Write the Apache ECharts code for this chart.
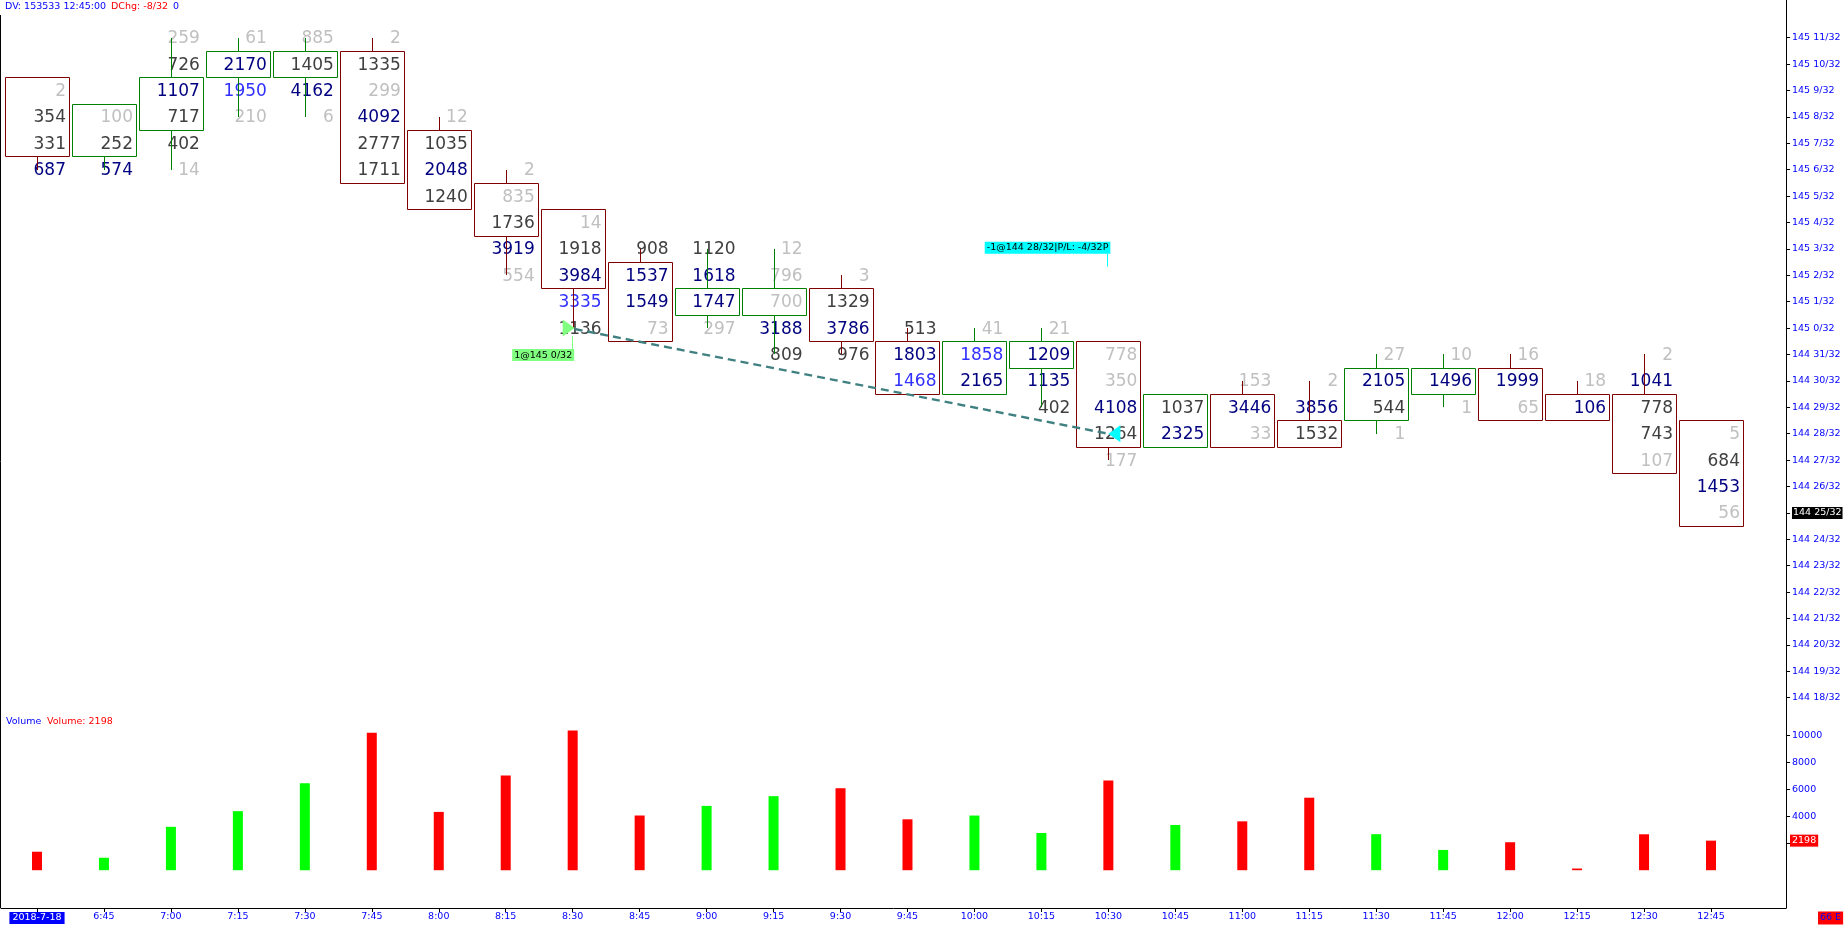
<!DOCTYPE html>
<html><head><meta charset="utf-8">
<script src="https://cdn.jsdelivr.net/npm/echarts@6/dist/echarts.min.js"></script>
<style>html,body{margin:0;padding:0;background:#fff;overflow:hidden}#c{width:1848px;height:926px}</style>
</head><body><div id="c"></div>
<script>
// ---- data (prices are in 1/32 ticks above 144) ----
var BASE = 144;
var times = ['2018-7-18','6:45','7:00','7:15','7:30','7:45','8:00','8:15','8:30','8:45','9:00','9:15','9:30','9:45','10:00','10:15','10:30','10:45','11:00','11:15','11:30','11:45','12:00','12:15','12:30','12:45'];
var opens  = [41,39,40,42,42,42,39,37,36,34,33,33,33,31,30,31,31,28,29,28,29,30,30,29,29,28];
var closes = [39,40,41,42,42,38,37,36,34,32,33,33,32,30,31,31,28,29,28,28,30,30,29,29,27,25];
var highs  = [41,40,43,43,43,43,40,38,36,35,35,35,34,32,32,32,31,29,30,30,31,31,31,30,31,28];
var lows   = [38,38,38,40,40,38,37,34,32,32,32,31,31,30,30,29,27,28,28,28,28,29,29,29,27,25];
var direction = [-1,1,1,1,1,-1,-1,-1,-1,-1,1,1,-1,-1,1,1,-1,1,-1,-1,1,1,-1,-1,-1,-1];
// footprint volumes per price level, from high to low
var cellVolumes = [
 [2,354,331,687],[100,252,574],[259,726,1107,717,402,14],[61,2170,1950,210],[885,1405,4162,6],
 [2,1335,299,4092,2777,1711],[12,1035,2048,1240],[2,835,1736,3919,554],[14,1918,3984,3335,1136],
 [908,1537,1549,73],[1120,1618,1747,297],[12,796,700,3188,809],[3,1329,3786,976],[513,1803,1468],
 [41,1858,2165],[21,1209,1135,402],[778,350,4108,1264,177],[1037,2325],[153,3446,33],[2,3856,1532],
 [27,2105,544,1],[10,1496,1],[16,1999,65],[18,106],[2,1041,778,743,107],[5,684,1453,56]
];
// level class of each cell: 0 low, 1 normal, 2 high, 3 peak
var cellClass = [
 [0,1,1,2],[0,1,2],[0,1,2,1,1,0],[0,2,3,0],[0,1,2,0],
 [0,1,0,2,1,1],[0,1,2,1],[0,0,1,2,0],[0,1,2,3,1],
 [1,2,2,0],[1,2,2,0],[0,0,0,2,1],[0,1,2,1],[1,2,3],
 [0,3,2],[0,2,2,1],[0,0,2,1,0],[1,2],[0,2,0],[0,2,1],
 [0,2,1,0],[0,2,0],[0,2,0],[0,2],[0,2,1,1,0],[0,1,2,0]
];
var volumes = [1374,926,3225,4391,6458,10216,4335,7046,10387,4067,4782,5505,6094,3784,4064,2767,6677,3362,3632,5390,2677,1507,2080,124,2671,2198];
var priceTicks = [18,19,20,21,22,23,24,25,26,27,28,29,30,31,32,33,34,35,36,37,38,39,40,41,42,43];
var volumeTicks = [2000,4000,6000,8000,10000];
var tradeBars = [8,16];
var tradePrices = [32,28];
var tradeTexts = ['1@145 0/32','-1@144 28/32|P/L: -4/32P'];
var headerDV = 'DV: 153533 12:45:00';
var headerChg = 'DChg: -8/32';
var headerTail = '0';
var cornerText = '66 E';

// ---- rendering ----
var FONT = '"DejaVu Sans", Verdana, sans-serif';
var SMALL = '9.5px ' + FONT;
var classColors = ['#c0c0c0','#404040','#000080','#3030ff'];
var idx = times.map(function(t,i){return i;});
var XMIN = -0.5376, XMAX = 26.12;
var lastPrice = closes[closes.length-1];

function priceLabel(t){
  t = Math.round(t);
  var w = BASE + Math.floor(t/32), f = ((t%32)+32)%32;
  return w + ' ' + f + '/32';
}
function txt(s, x, y, fill, font, align, valign, extra){
  var st = {text:s, x:x, y:y, fill:fill, font:font, align:align, verticalAlign:valign, textAlign:align, textVerticalAlign:valign};
  if (extra) for (var k in extra) st[k] = extra[k];
  return {type:'text', style:st};
}

function renderCandle(params, api){
  var i = api.value(0);
  var o = opens[i], c = closes[i], h = highs[i], l = lows[i];
  var col = direction[i] > 0 ? '#008000' : '#800000';
  var bTop = Math.max(o,c), bBot = Math.min(o,c);
  var pt = api.coord([i, bTop + 0.5]), pb = api.coord([i, bBot - 0.5]);
  var bw = api.size([1,0])[0];
  var cx = pt[0];
  var half = Math.round(bw*0.475);
  var xc = Math.round(cx) + 0.5;
  var yt = Math.round(pt[1]) + 0.5, yb = Math.round(pb[1]) + 0.5;
  var ch = [];
  ch.push({type:'rect', shape:{x:Math.round(cx)-half+0.5, y:yt, width:2*half, height:yb-yt}, style:{fill:'none', stroke:col, lineWidth:1}});
  var vols = cellVolumes[i], cls = cellClass[i];
  for (var k=0;k<vols.length;k++){
    var q = api.coord([i, h-k]);
    ch.push(txt(String(vols[k]), cx + bw*0.433, q[1]+1, classColors[cls[k]], '17px '+FONT, 'right', 'middle'));
  }
  if (h > bTop){ var qh = api.coord([i,h]); ch.push({type:'line', shape:{x1:xc,y1:Math.round(qh[1]),x2:xc,y2:yt}, style:{stroke:col,lineWidth:1}}); }
  if (l < bBot){ var ql = api.coord([i,l]); ch.push({type:'line', shape:{x1:xc,y1:yb,x2:xc,y2:Math.round(ql[1])}, style:{stroke:col,lineWidth:1}}); }
  return {type:'group', children:ch};
}

function renderTrades(params, api){
  var e = api.coord([api.value(0), api.value(1)]);
  var x = api.coord([api.value(2), api.value(3)]);
  var ch = [];
  ch.push({type:'line', shape:{x1:e[0]+2, y1:e[1]+1, x2:x[0], y2:x[1]}, style:{stroke:'#408080', lineWidth:2.5, lineDash:[8,5]}});
  ch.push({type:'polygon', shape:{points:[[e[0]+2,e[1]],[e[0]-10,e[1]-8.5],[e[0]-10,e[1]+8.5]]}, style:{fill:'#80ff80'}});
  ch.push({type:'line', shape:{x1:Math.round(e[0])-0.5, y1:e[1]+8, x2:Math.round(e[0])-0.5, y2:e[1]+21}, style:{stroke:'#80ff80', lineWidth:1}});
  ch.push(txt(tradeTexts[0], e[0]+1.5, e[1]+21, '#000', SMALL, 'right', 'top', {backgroundColor:'#80ff80', padding:[1,2,1,2]}));
  ch.push({type:'polygon', shape:{points:[[x[0],x[1]],[x[0]+12,x[1]-8.5],[x[0]+12,x[1]+8.5]]}, style:{fill:'#00ffff'}});
  ch.push({type:'line', shape:{x1:Math.round(x[0])-0.5, y1:x[1]-180, x2:Math.round(x[0])-0.5, y2:x[1]-167}, style:{stroke:'#00ffff', lineWidth:1}});
  ch.push(txt(tradeTexts[1], x[0]+2, x[1]-180, '#000', SMALL, 'right', 'bottom', {backgroundColor:'#00ffff', padding:[1,2,1,2]}));
  return {type:'group', children:ch};
}

var chart = echarts.init(document.getElementById('c'), null, {renderer:'canvas'});
var axisLineStyle = {show:true, onZero:false, lineStyle:{color:'#000', width:1}};
var option = {
  animation:false,
  backgroundColor:'#ffffff',
  tooltip:{show:false},
  grid:[
    {left:1, right:62, top:0, height:710, outerBoundsMode:'none', containLabel:false},
    {left:1, right:62, top:710, height:198, outerBoundsMode:'none', containLabel:false}
  ],
  xAxis:[
    {type:'value', gridIndex:0, min:XMIN, max:XMAX, show:false, axisLine:{onZero:false}},
    {type:'value', gridIndex:1, position:'bottom', min:XMIN, max:XMAX, splitLine:{show:false}, axisLine:axisLineStyle,
     axisTick:{show:true, customValues:idx, length:4, lineStyle:{color:'#000'}},
     axisLabel:{show:true, customValues:idx, margin:4, color:'#0000ff', fontFamily:FONT, fontSize:9.5,
       formatter:function(v){ var i=Math.round(v); return i===0 ? '{hl|'+times[0]+'}' : times[i]; },
       rich:{hl:{backgroundColor:'#0000ff', color:'#ffffff', fontFamily:FONT, fontSize:9.5, padding:[1,3,1,3]}}}}
  ],
  yAxis:[
    {type:'value', gridIndex:0, position:'right', min:17.534, max:44.428, splitLine:{show:false}, axisLine:axisLineStyle,
     axisTick:{show:true, customValues:priceTicks, length:4, lineStyle:{color:'#000'}},
     axisLabel:{show:true, customValues:priceTicks, margin:6, color:'#0000ff', fontFamily:FONT, fontSize:9.5,
       formatter:function(v){ var s=priceLabel(v); return Math.round(v)===lastPrice ? '{hl|'+s+'}' : s; },
       rich:{hl:{backgroundColor:'#000000', color:'#ffffff', fontFamily:FONT, fontSize:9.5, padding:[1,1,1,1]}}}},
    {type:'value', gridIndex:1, position:'right', min:-2810, max:11911, splitLine:{show:false}, axisLine:axisLineStyle,
     axisTick:{show:true, customValues:volumeTicks, length:4, lineStyle:{color:'#000'}},
     axisLabel:{show:true, customValues:volumeTicks, margin:6, color:'#0000ff', fontFamily:FONT, fontSize:9.5,
       formatter:function(v){ return String(Math.round(v)); }}}
  ],
  series:[
    {type:'custom', xAxisIndex:0, yAxisIndex:0, silent:true, clip:false, z:2,
     data: idx.map(function(i){return [i, lows[i], highs[i]];}), encode:{x:0, y:[1,2]}, renderItem:renderCandle},
    {type:'bar', xAxisIndex:1, yAxisIndex:1, silent:true, barWidth:10,
     data: volumes.map(function(v,i){return {value:[i,v], itemStyle:{color: direction[i]>0 ? '#00ff00' : '#ff0000'}};})},
    {type:'custom', xAxisIndex:0, yAxisIndex:0, silent:true, clip:false, z:5,
     data:[[tradeBars[0], tradePrices[0], tradeBars[1], tradePrices[1]]], encode:{x:[0,2], y:[1,3]}, renderItem:renderTrades}
  ]
};
chart.setOption(option);

var lastVol = volumes[volumes.length-1];
var yv = chart.convertToPixel({yAxisIndex:1}, lastVol);
function gtext(s, x, y, fill, valign, extra){
  var st = {text:s, fill:fill, font:SMALL, align:'left', verticalAlign:valign, textAlign:'left', textVerticalAlign:valign};
  if (extra) for (var k in extra) st[k]=extra[k];
  return {type:'text', x:x, y:y, z:100, silent:true, style:st};
}
chart.setOption({graphic:[
  gtext(headerDV, 5, 7, '#0000ff', 'middle'),
  gtext(headerChg, 111, 7, '#ff0000', 'middle'),
  gtext(headerTail, 173, 7, '#0000ff', 'middle'),
  gtext('Volume', 6, 722, '#0000ff', 'middle'),
  gtext('Volume: ' + lastVol, 47, 722, '#ff0000', 'middle'),
  gtext(String(lastVol), 1790, yv, '#ffffff', 'middle', {backgroundColor:'#ff0000', padding:[1,2,1,2]}),
  gtext(cornerText, 1818, 918, '#0000ff', 'middle', {backgroundColor:'#ff0000', padding:[2,2,1,2]}),
  {type:'line', z:100, silent:true, shape:{x1:0.5, y1:15, x2:0.5, y2:908}, style:{stroke:'#000', lineWidth:1}}
]});
</script></body></html>
